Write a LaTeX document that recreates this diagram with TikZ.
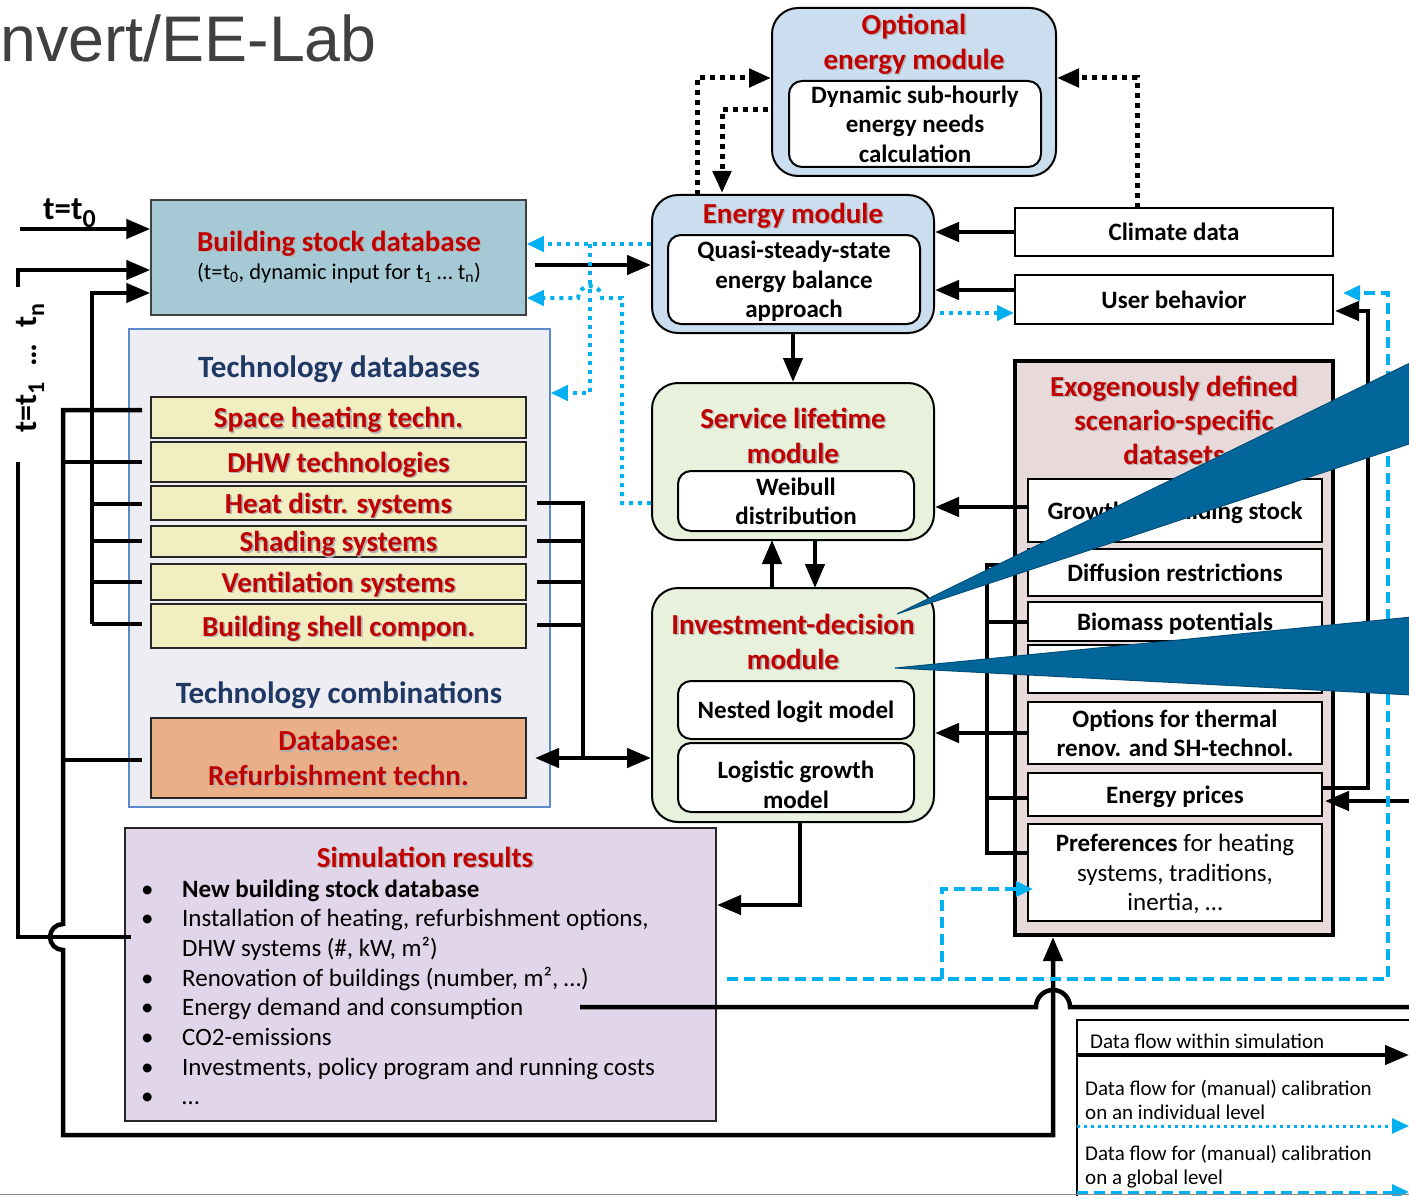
\documentclass[tikz,border=0pt]{standalone}
\usepackage{fontspec}
\setmainfont{Carlito}
\newfontfamily\hdrfont{Liberation Sans}
\usetikzlibrary{arrows.meta}
\definecolor{cred}{HTML}{C00000}
\definecolor{cnavy}{HTML}{1F3864}
\definecolor{cbsd}{HTML}{A6CAD5}
\definecolor{cpanel}{HTML}{EEEDF3}
\definecolor{cpanelb}{HTML}{5B8BC9}
\definecolor{cyel}{HTML}{F1EFC1}
\definecolor{corg}{HTML}{E9AF87}
\definecolor{csim}{HTML}{E1D5E9}
\definecolor{cmodb}{HTML}{CADEF0}
\definecolor{cmodg}{HTML}{E7F1DC}
\definecolor{cexo}{HTML}{E8DADA}
\definecolor{ccall}{HTML}{03669A}
\definecolor{ccallb}{HTML}{02507A}
\definecolor{ccyan}{HTML}{00B0F0}
\definecolor{chdr}{HTML}{404040}
\newcommand\shd[1]{\rlap{\raisebox{-1.6pt}{\kern1.6pt\textcolor{black!30}{#1}}}#1}
\begin{document}
\begin{tikzpicture}[x=1pt,y=-1pt,
 ttl/.style={text=cred,font=\fontsize{29}{35}\selectfont\bfseries,align=center,inner sep=0pt,text depth=0pt},
 navy/.style={text=cnavy,font=\fontsize{31}{35}\selectfont\bfseries,inner sep=0pt,text depth=0pt},
 lbl/.style={font=\fontsize{25}{29.5}\selectfont\bfseries,align=center,inner sep=0pt,text depth=0pt},
 ybox/.style={draw=black!85,line width=1.5pt,fill=cyel,minimum width=375pt,minimum height=#1,inner sep=0pt,text depth=0pt,text=cred,font=\fontsize{29}{35}\selectfont\bfseries},
 modb/.style={draw=black,line width=2pt,rounded corners=26pt,fill=cmodb},
 modg/.style={draw=black,line width=2pt,rounded corners=26pt,fill=cmodg},
 inbox/.style={draw=black,line width=2pt,rounded corners=13pt,fill=white},
 wbox/.style={draw=black,line width=2pt,fill=white,minimum width=294pt,minimum height=#1,inner sep=0pt,text depth=0pt,font=\fontsize{25}{29.5}\selectfont\bfseries,align=center},
 sbox/.style={draw=black,line width=2pt,fill=white,minimum width=318pt,minimum height=#1,inner sep=0pt,font=\fontsize{25}{29.5}\selectfont\bfseries},
 blk/.style={line width=4.5pt},
 arr/.style={line width=4.5pt,-{Triangle[length=24pt,width=19pt]}},
 darr/.style={line width=4.5pt,{Triangle[length=24pt,width=19pt]}-{Triangle[length=24pt,width=19pt]}},
 kdot/.style={line width=5pt,dash pattern=on 5pt off 5pt,-{Triangle[length=22pt,width=18pt]}},
 bdot/.style={draw=ccyan,line width=4pt,dash pattern=on 4pt off 5pt},
 bdotarr/.style={bdot,-{Triangle[length=17pt,width=15pt]}},
 bdash/.style={draw=ccyan,line width=3.5pt,dash pattern=on 11pt off 6pt},
 bdasharr/.style={bdash,-{Triangle[length=17pt,width=15pt]}},
 leg/.style={font=\fontsize{21}{24}\selectfont,align=left,inner sep=0pt,anchor=west},
 callout/.style={fill=ccall,draw=ccallb,line width=1pt}
]
\fill[white] (0,0) rectangle (1409,1196);
\useasboundingbox (0,0) rectangle (1409,1196);

% header
\node[anchor=west,inner sep=0pt,text=chdr,font=\hdrfont\fontsize{64.5}{64.5}\selectfont] (hdr) at (0,38) {nvert/EE-Lab};

% building stock database
\node[draw=black!75,line width=1.5pt,fill=cbsd,minimum width=375pt,minimum height=115pt] (bsd) at (338.5,257.5) {};
\node[ttl] (bsdT) at (339,241) {\shd{Building stock database}};
\node[font=\fontsize{22.5}{26}\selectfont,inner sep=0pt] (bsdS) at (339,273) {(t=t\textsubscript{0}, dynamic input for t\textsubscript{1} \dots\ t\textsubscript{n})};

% technology panel
\node[draw=cpanelb,line width=1.5pt,fill=cpanel,minimum width=421pt,minimum height=478pt] (tech) at (339.5,568) {};
\node[navy] (techT) at (339,367) {Technology databases};
\node[ybox=41pt] (ysh) at (338.5,417.5) {\shd{Space heating techn.}};
\node[ybox=40pt] (ydhw) at (338.5,462) {\shd{DHW technologies}};
\node[ybox=34pt] (yhd) at (338.5,503) {\shd{Heat distr. systems}};
\node[ybox=31pt] (ysd) at (338.5,541.5) {\shd{Shading systems}};
\node[ybox=36pt] (yve) at (338.5,582) {\shd{Ventilation systems}};
\node[ybox=44pt] (ybs) at (338.5,626) {\shd{Building shell compon.}};
\node[navy] (combT) at (339,693) {Technology combinations};
\node[draw=black!85,line width=1.5pt,fill=corg,minimum width=375pt,minimum height=80pt,ttl] (db) at (338.5,758) {\shd{Database:}\\\shd{Refurbishment techn.}};

% simulation results
\node[draw=black!85,line width=2pt,fill=csim,minimum width=591pt,minimum height=293pt] (sim) at (420.5,974.5) {};
\node[ttl] (simT) at (425,857) {\shd{Simulation results}};
\node[anchor=base west,inner sep=0pt,font=\fontsize{25}{29.7}\selectfont] (simL) at (141,897) {\begin{tabular}[t]{@{}p{41pt}@{}l@{}}
• & \textbf{New building stock database}\\
• & Installation of heating, refurbishment options,\\
  & DHW systems (\#, kW, m²)\\
• & Renovation of buildings (number, m², \dots)\\
• & Energy demand and consumption\\
• & CO2-emissions\\
• & Investments, policy program and running costs\\
• & \dots
\end{tabular}};

% optional energy module
\node[modb,minimum width=284pt,minimum height=168pt] (optm) at (914,92) {};
\node[ttl] (optmT) at (914,41.5) {\shd{Optional}\\\shd{energy module}};
\node[inbox,lbl,minimum width=252pt,minimum height=86pt] (optmI) at (915,124) {Dynamic sub-hourly\\energy needs\\calculation};

% energy module
\node[modb,minimum width=282pt,minimum height=138pt] (em) at (793,264) {};
\node[ttl] (emT) at (793,213) {\shd{Energy module}};
\node[inbox,lbl,minimum width=252pt,minimum height=89pt] (emI) at (794,279.5) {Quasi-steady-state\\energy balance\\approach};

% service lifetime module
\node[modg,minimum width=282pt,minimum height=157pt] (slm) at (793,461.5) {};
\node[ttl] (slmT) at (793,435.5) {\shd{Service lifetime}\\\shd{module}};
\node[inbox,lbl,minimum width=236pt,minimum height=60pt] (slmI) at (796,501) {Weibull\\distribution};

% investment-decision module
\node[modg,minimum width=282pt,minimum height=234pt] (inv) at (793,705) {};
\node[ttl] (invT) at (793,641.5) {\shd{Investment-decision}\\\shd{module}};
\node[inbox,lbl,minimum width=236pt,minimum height=58pt] (invA) at (796,710) {Nested logit model};
\node[inbox,minimum width=236pt,minimum height=69pt] (invB) at (796,777.5) {};
\node[lbl] (invBT) at (796,784.5) {Logistic growth\\model};

% climate / user
\node[sbox=48pt] (clim) at (1174,232) {Climate data};
\node[sbox=49pt] (user) at (1174,299.5) {User behavior};

% exogenous datasets
\node[draw=black,line width=4pt,fill=cexo,minimum width=318pt,minimum height=574pt] (exo) at (1174,648) {};
\node[ttl,font=\fontsize{29}{34}\selectfont\bfseries] (exoT) at (1174,420) {\shd{Exogenously defined}\\\shd{scenario-specific}\\\shd{datasets}};
\node[wbox=63pt] (gro) at (1175,510.5) {Growth of building stock};
\node[wbox=47pt] (dif) at (1175,572.5) {Diffusion restrictions};
\node[wbox=39pt] (bio) at (1175,621.5) {Biomass potentials};
\node[wbox=48pt] (hid) at (1175,669) {};
\node[wbox=62pt] (opn) at (1175,733) {Options for thermal\\renov. and SH-technol.};
\node[wbox=43pt] (pri) at (1175,794.5) {Energy prices};
\node[wbox=97pt,font=\fontsize{25}{29.5}\selectfont] (pre) at (1175,872.5) {\textbf{Preferences} for heating\\systems, traditions,\\inertia, \dots};

% time labels
\node[anchor=base west,inner sep=0pt,font=\fontsize{33}{33}\selectfont\bfseries] (tz) at (43,219) {t=t\raisebox{-0.25em}{\fontsize{26}{26}\selectfont 0}};
\node[rotate=90,inner sep=0pt,font=\fontsize{32}{32}\selectfont\bfseries] (tn) at (30,368) {t=t\raisebox{-0.25em}{\fontsize{24}{24}\selectfont 1}\hspace{0.5em}\dots\hspace{0.5em}t\raisebox{-0.25em}{\fontsize{24}{24}\selectfont n}};

% ---- connectors ----
\draw[arr] (20,229) -- (bsd.west |- 0,229);
\draw[blk] (131,937) -- (18,937) -- (18,462);
\draw[arr] (18,287) -- (18,270) -- (bsd.west |- 0,270);
\draw[arr] (92,624) -- (92,293) -- (bsd.west |- 0,293);
\foreach \yy in {504,541,582,624} \draw[blk] (142,\yy) -- (92,\yy);
\draw[blk] (142,462) -- (63,462);
\draw[blk] (142,760) -- (63,760);
\draw[arr] (142,410) -- (63,410) -- (63,924) arc (270:90:13) -- (63,1135) -- (1053,1135) -- (1053,937);
\draw[blk] (580,1007) -- (1036,1007) arc (180:360:17) -- (1412,1007);

% building stock <-> energy module
\draw[arr] (535,265) -- (em.west |- 0,265);
\draw[bdotarr] (em.west |- 0,244) -- (bsd.east |- 0,244);
\draw[bdotarr] (590,244) -- (590,393) -- (tech.east |- 0,393);
\draw[bdotarr] (slm.west |- 0,503) -- (622,503) -- (622,298) -- (602,298) arc (0:-180:12) -- (bsd.east |- 0,298);

% climate, user
\draw[arr] (clim.west) -- (em.east |- clim.west);
\draw[arr] (user.west |- 0,290) -- (em.east |- 0,290);
\draw[bdotarr] (940,313) -- (user.west |- 0,313);

% optional module
\draw[kdot] (697,195) -- (697,78) -- (optm.west |- 0,78);
\draw[kdot] (768,110) -- (722,110) -- (722,193);
\draw[kdot] (1137,208) -- (1137,78) -- (optm.east |- 0,78);

% module chain
\draw[arr] (em.south) -- (slm.north);
\draw[arr] (772,588) -- (772,540);
\draw[arr] (815,540) -- (815,588);
\draw[arr] (gro.west |- 0,507) -- (slm.east |- 0,507);
\draw[arr] (opn.west) -- (inv.east |- opn.west);
\draw[blk] (1028,565) -- (987,565) -- (987,853) -- (pre.west |- 0,853);
\draw[blk] (987,622) -- (bio.west |- 0,622);
\draw[blk] (987,798) -- (pri.west |- 0,798);

% technologies -> investment
\draw[blk] (537,503) -- (583,503) -- (583,758);
\foreach \yy in {541,582,625} \draw[blk] (537,\yy) -- (583,\yy);
\draw[darr] (535,758) -- (inv.west |- 0,758);

% investment -> simulation
\draw[arr] (800,822) -- (800,905) -- (sim.east |- 0,905);

% energy prices, user behavior
\draw[arr] (1412,801) -- (1325,801);
\draw[arr] (pri.east |- 0,788) -- (1368,788) -- (1368,311) -- (1335,311);

% global calibration
\draw[bdasharr] (727,979) -- (1388,979) -- (1388,293) -- (1343,293);
\draw[bdasharr] (942,979) -- (942,889) -- (1033,889);

% legend
\draw[line width=2pt] (1412,1020) -- (1077,1020) -- (1077,1200);
\node[leg] (lg1) at (1090,1041) {Data flow within simulation};
\draw[arr] (1077,1055) -- (1409,1055);
\node[leg] (lg2) at (1085,1100) {Data flow for (manual) calibration\\on an individual level};
\draw[bdotarr,line width=3pt,dash pattern=on 3pt off 4pt] (1077,1126) -- (1409,1126);
\node[leg] (lg3) at (1085,1167) {Data flow for (manual) calibration\\on a global level};
\draw[bdasharr,line width=3pt] (1077,1192) -- (1409,1192);
\draw[black!45,line width=1.5pt] (0,1194.5) -- (1409,1194.5);

% callouts
\draw[callout] (897,614) -- (1412,362) -- (1412,443) -- cycle;
\draw[callout] (895,668) -- (1412,617) -- (1412,695) -- cycle;
\end{tikzpicture}
\end{document}
